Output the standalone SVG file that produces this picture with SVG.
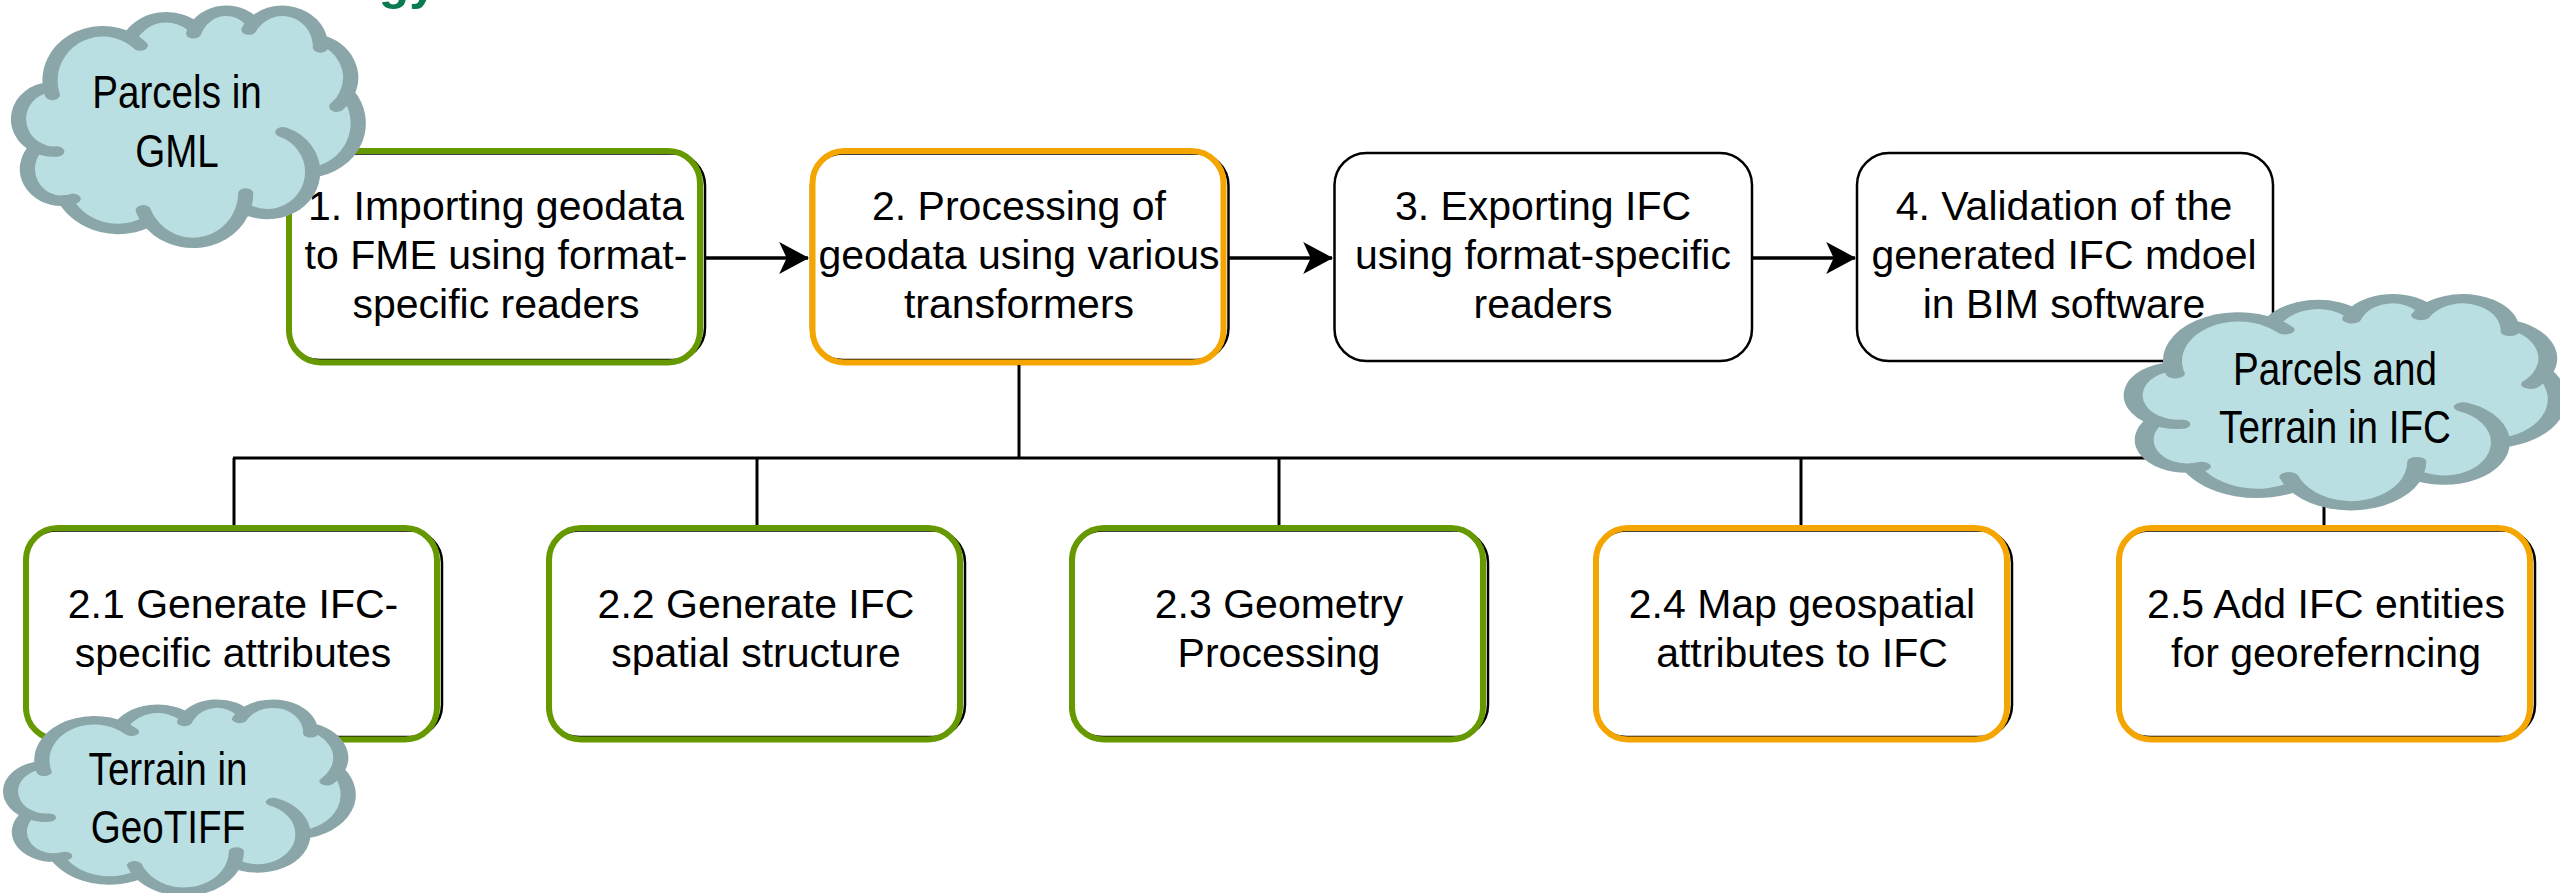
<svg xmlns="http://www.w3.org/2000/svg" width="2560" height="893" viewBox="0 0 2560 893">
<style>
.t{font-family:"Liberation Sans",Arial,sans-serif;font-size:41px;fill:#000;text-anchor:middle}
.ct{font-family:"Liberation Sans",Arial,sans-serif;font-size:46px;fill:#000;text-anchor:middle}
.ttl{font-family:"Liberation Sans",Arial,sans-serif;font-size:50px;font-weight:bold;fill:#0B7A50}
.bk{fill:#fff;stroke:#000;stroke-width:2.5}
.gr{fill:none;stroke:#669900;stroke-width:6}
.or{fill:none;stroke:#F5A500;stroke-width:6}
.ln{fill:none;stroke:#000;stroke-width:3}
.ar{fill:none;stroke:#000;stroke-width:3.5}
.cf{fill:#B9DFE2;stroke:#8AA6A8;stroke-width:4.5;stroke-linejoin:round}
.ch{fill:none;stroke:#8AA6A8;stroke-width:4.5;stroke-linecap:round}
</style>
<defs>
<marker id="arr" markerUnits="userSpaceOnUse" markerWidth="30" markerHeight="32" viewBox="0 0 28 30" refX="27" refY="15" orient="auto">
<path d="M28,15 L0,0 L7,15 L0,30 Z" fill="#000"/>
</marker>
<path id="cloudBody" d="M9.028 33.264 A15.632 21.273 0 0 1 32.419 12.042 A12.345 16.822 0 0 1 51.991 7.950 A10.104 13.762 0 0 1 69.068 5.745 A11.243 15.266 0 0 1 88.708 12.912 A12.345 16.836 0 0 1 96.811 35.791 A15.683 21.343 0 0 1 86.595 69.921 A13.391 18.211 0 0 1 66.112 85.222 A15.630 21.331 0 0 1 38.162 90.904 A17.870 24.405 0 0 1 13.452 82.123 A10.093 13.699 0 0 1 4.907 59.157 A10.058 13.762 0 0 1 9.028 33.264 Z"/>
<path id="cloudHooks" d="M4.907 59.157 A10.058 13.762 0 0 0 10.87 60.99 M9.028 33.264 A15.632 21.273 0 0 0 9.569 36.617 M32.419 12.042 A15.632 21.273 0 0 1 35.571 15.355 M51.991 7.950 A10.104 13.762 0 0 0 51.370 10.066 M69.068 5.745 A11.243 15.266 0 0 0 67.716 8.451 M88.708 12.912 A11.243 15.266 0 0 1 88.879 16.151 M96.811 35.791 A12.345 16.836 0 0 1 93.725 41.668 M86.595 69.921 A13.391 18.211 0 0 0 77.784 52.662 M66.112 85.222 A15.630 21.331 0 0 0 66.783 79.043 M38.162 90.904 A15.630 21.331 0 0 1 36.466 86.339 M13.452 82.123 A10.093 13.699 0 0 0 15.728 81.390"/>
</defs>
<rect width="2560" height="893" fill="#fff"/>
<text class="ttl" x="126" y="-1">Methodology</text>

<g id="box1">
<rect class="bk" x="287.5" y="153.5" width="417.5" height="206.5" rx="32"/>
<rect class="gr" x="289" y="151" width="411" height="211.5" rx="32"/>
<text class="t" x="496" y="220">1. Importing geodata</text>
<text class="t" x="496" y="269">to FME using format-</text>
<text class="t" x="496" y="318">specific readers</text>
</g>
<g id="box2">
<rect class="bk" x="811" y="153.5" width="417.5" height="206.5" rx="32"/>
<rect class="or" x="812.5" y="151" width="411" height="211.5" rx="32"/>
<text class="t" x="1019" y="220">2. Processing of</text>
<text class="t" x="1019" y="269">geodata using various</text>
<text class="t" x="1019" y="318">transformers</text>
</g>
<g id="box3">
<rect class="bk" x="1334.5" y="153" width="417.5" height="208" rx="32"/>
<text class="t" x="1543" y="220">3. Exporting IFC</text>
<text class="t" x="1543" y="269">using format-specific</text>
<text class="t" x="1543" y="318">readers</text>
</g>
<g id="box4">
<rect class="bk" x="1857" y="153" width="416" height="208" rx="32"/>
<text class="t" x="2064" y="220">4. Validation of the</text>
<text class="t" x="2064" y="269">generated IFC mdoel</text>
<text class="t" x="2064" y="318">in BIM software</text>
</g>

<g id="box21">
<rect class="bk" x="24.5" y="530.5" width="417.5" height="206.5" rx="32"/>
<rect class="gr" x="26" y="528" width="411" height="211.5" rx="32"/>
<text class="t" x="233" y="618">2.1 Generate IFC-</text>
<text class="t" x="233" y="667">specific attributes</text>
</g>
<g id="box22">
<rect class="bk" x="547.5" y="530.5" width="417.5" height="206.5" rx="32"/>
<rect class="gr" x="549" y="528" width="411" height="211.5" rx="32"/>
<text class="t" x="756" y="618">2.2 Generate IFC</text>
<text class="t" x="756" y="667">spatial structure</text>
</g>
<g id="box23">
<rect class="bk" x="1070.5" y="530.5" width="417.5" height="206.5" rx="32"/>
<rect class="gr" x="1072" y="528" width="411" height="211.5" rx="32"/>
<text class="t" x="1279" y="618">2.3 Geometry</text>
<text class="t" x="1279" y="667">Processing</text>
</g>
<g id="box24">
<rect class="bk" x="1594.5" y="530.5" width="417.5" height="206.5" rx="32"/>
<rect class="or" x="1596" y="528" width="411" height="211.5" rx="32"/>
<text class="t" x="1802" y="618">2.4 Map geospatial</text>
<text class="t" x="1802" y="667">attributes to IFC</text>
</g>
<g id="box25">
<rect class="bk" x="2117.5" y="530.5" width="417.5" height="206.5" rx="32"/>
<rect class="or" x="2119" y="528" width="411" height="211.5" rx="32"/>
<text class="t" x="2326" y="618">2.5 Add IFC entities</text>
<text class="t" x="2326" y="667">for georeferncing</text>
</g>

<g id="connectors">
<line class="ar" x1="706" y1="258" x2="808" y2="258" marker-end="url(#arr)"/>
<line class="ar" x1="1229" y1="258" x2="1332" y2="258" marker-end="url(#arr)"/>
<line class="ar" x1="1753" y1="258" x2="1855" y2="258" marker-end="url(#arr)"/>
<line class="ln" x1="1019" y1="365" x2="1019" y2="458"/>
<line class="ln" x1="233" y1="458" x2="2325.5" y2="458"/>
<line class="ln" x1="234" y1="458" x2="234" y2="525"/>
<line class="ln" x1="757" y1="458" x2="757" y2="525"/>
<line class="ln" x1="1279" y1="458" x2="1279" y2="525"/>
<line class="ln" x1="1801" y1="458" x2="1801" y2="525"/>
<line class="ln" x1="2324" y1="458" x2="2324" y2="525"/>
</g>

<g id="cloud1">
<g transform="translate(20,10) scale(3.38,2.32)">
<use href="#cloudBody" class="cf" vector-effect="non-scaling-stroke"/>
<use href="#cloudHooks" class="ch" vector-effect="non-scaling-stroke"/>
</g>
<text class="ct" transform="translate(177,108) scale(0.84,1)">Parcels in</text>
<text class="ct" transform="translate(177,167) scale(0.84,1)">GML</text>
</g>
<g id="cloud2">
<g transform="translate(2135,298) scale(4.22,2.07)">
<use href="#cloudBody" class="cf" vector-effect="non-scaling-stroke"/>
<use href="#cloudHooks" class="ch" vector-effect="non-scaling-stroke"/>
</g>
<text class="ct" transform="translate(2335,385) scale(0.84,1)">Parcels and</text>
<text class="ct" transform="translate(2335,443) scale(0.84,1)">Terrain in IFC</text>
</g>
<g id="cloud3">
<g transform="translate(12,703) scale(3.36,1.88)">
<use href="#cloudBody" class="cf" vector-effect="non-scaling-stroke"/>
<use href="#cloudHooks" class="ch" vector-effect="non-scaling-stroke"/>
</g>
<text class="ct" transform="translate(168,785) scale(0.84,1)">Terrain in</text>
<text class="ct" transform="translate(168,843) scale(0.84,1)">GeoTIFF</text>
</g>
</svg>
